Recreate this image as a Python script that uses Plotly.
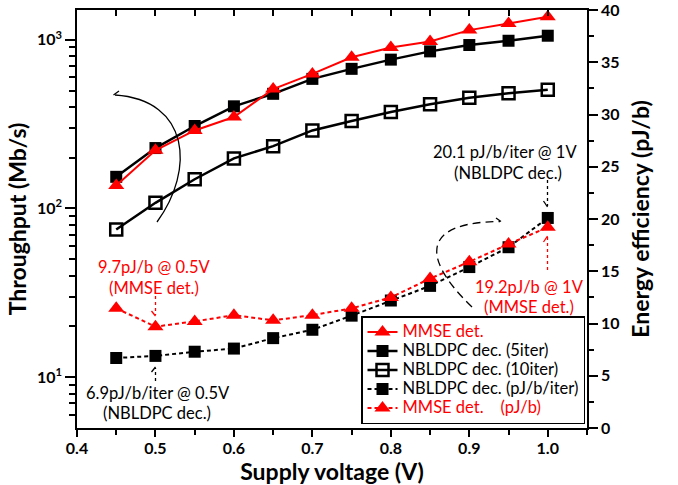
import plotly.graph_objects as go

# ---------------- data ----------------
voltage = [0.45, 0.50, 0.55, 0.60, 0.65, 0.70, 0.75, 0.80, 0.85, 0.90, 0.95, 1.00]
mmse_throughput = [137, 221, 290, 348, 510, 627, 787, 900, 977, 1140, 1248, 1367]
nbldpc5_throughput = [154, 228, 308, 403, 478, 586, 672, 762, 853, 930, 986, 1056]
nbldpc10_throughput = [75, 108, 149, 198, 234, 290, 330, 373, 414, 453, 482, 505]
nbldpc_energy = [6.7, 6.9, 7.3, 7.6, 8.6, 9.4, 10.75, 12.2, 13.6, 15.4, 17.3, 20.1]
mmse_energy = [11.45, 9.7, 10.2, 10.8, 10.3, 10.8, 11.45, 12.5, 14.3, 15.9, 17.6, 19.2]

x_tick_vals = [0.4, 0.5, 0.6, 0.7, 0.8, 0.9, 1.0]
x_tick_text = ["0.4", "0.5", "0.6", "0.7", "0.8", "0.9", "1.0"]
left_tick_vals = [10, 100, 1000]
left_tick_text = ["10<sup>1</sup>", "10<sup>2</sup>", "10<sup>3</sup>"]
left_minor_vals = [6, 7, 8, 9, 20, 30, 40, 50, 60, 70, 80, 90,
                   200, 300, 400, 500, 600, 700, 800, 900]
right_tick_vals = [0, 5, 10, 15, 20, 25, 30, 35, 40]
right_tick_text = ["0", "5", "10", "15", "20", "25", "30", "35", "40"]

FONT = "Lato"
RED = "#ff0000"
BLACK = "#000000"

W, H = 678, 485
# plot area in pixels
L, R, T, B = 77, 587, 10, 428


def pp(px, py):
    return (px - L) / (R - L), (B - py) / (B - T)


def path_from(points, cmds):
    s = ""
    for c, pts in zip(cmds, points):
        s += c + " " + " ".join("%.5f,%.5f" % pp(*p) for p in pts) + " "
    return s.strip()


def lg(text, color=BLACK):
    return '<span style="font-size:16.5px;color:%s">%s</span>' % (color, text)


fig = go.Figure()

# throughput (left log axis)
fig.add_trace(go.Scatter(
    x=voltage, y=nbldpc10_throughput, name=lg("NBLDPC dec. (10iter)"), mode="lines+markers",
    line=dict(color=BLACK, width=2.5), legendrank=3,
    marker=dict(symbol="square-open", size=12, color=BLACK, line=dict(width=2.5, color=BLACK))))
fig.add_trace(go.Scatter(
    x=voltage, y=nbldpc5_throughput, name=lg("NBLDPC dec. (5iter)"), mode="lines+markers",
    line=dict(color=BLACK, width=2.5), legendrank=2,
    marker=dict(symbol="square", size=12, color=BLACK)))
fig.add_trace(go.Scatter(
    x=voltage, y=mmse_throughput, name=lg("MMSE det.", RED),
    mode="lines+markers", line=dict(color=RED, width=2), legendrank=1,
    marker=dict(symbol="triangle-up", size=14, color=RED)))

# energy (right axis)
fig.add_trace(go.Scatter(
    x=voltage, y=nbldpc_energy, name=lg("NBLDPC dec. (pJ/b/iter)"), mode="lines+markers",
    yaxis="y2", line=dict(color=BLACK, width=2, dash="4px,3px"), legendrank=4,
    marker=dict(symbol="square", size=12, color=BLACK)))
fig.add_trace(go.Scatter(
    x=voltage, y=mmse_energy,
    name=lg("MMSE det.\u00a0\u00a0\u00a0\u00a0(pJ/b)", RED),
    mode="lines+markers", yaxis="y2", line=dict(color=RED, width=2, dash="4px,3px"),
    legendrank=5, marker=dict(symbol="triangle-up", size=14, color=RED)))

# dummy trace for top axis
fig.add_trace(go.Scatter(x=[], y=[], xaxis="x2", showlegend=False, hoverinfo="skip"))

tick_font = dict(family=FONT, size=16, color=BLACK, weight="bold")
title_font = dict(family=FONT, size=23, color=BLACK, weight="bold")

fig.update_layout(
    width=W, height=H,
    margin=dict(l=L, r=W - R, t=T, b=H - B, pad=0),
    paper_bgcolor="white", plot_bgcolor="white",
    font=dict(family=FONT, size=15, color=BLACK),
    xaxis=dict(
        range=[0.4, 1.05], tickmode="array", tickvals=x_tick_vals, ticktext=x_tick_text,
        ticks="outside", ticklen=7, tickwidth=1.5, tickcolor=BLACK,
        minor=dict(tickmode="array", tickvals=[0.45, 0.55, 0.65, 0.75, 0.85, 0.95, 1.05],
                   ticks="outside", ticklen=5, tickwidth=1.5, tickcolor=BLACK),
        showline=True, linewidth=1.5, linecolor=BLACK, showgrid=False, zeroline=False,
        tickfont=tick_font, automargin=False, ticklabeloverflow="allow",
        ticklabelstandoff=-2,
        title=dict(text="Supply voltage (V)", font=title_font, standoff=2)),
    xaxis2=dict(
        range=[0.4, 1.05], overlaying="x", side="top", tickmode="linear", tick0=0.4, dtick=0.05,
        ticks="inside", ticklen=6, tickwidth=1.5, tickcolor=BLACK, showticklabels=False,
        showline=True, linewidth=1.5, linecolor=BLACK, showgrid=False, zeroline=False,
        automargin=False),
    yaxis=dict(
        type="log", range=[0.69897, 3.17609], tickmode="array",
        tickvals=left_tick_vals, ticktext=left_tick_text,
        ticks="outside", ticklen=10, tickwidth=1.5, tickcolor=BLACK,
        minor=dict(tickmode="array", tickvals=left_minor_vals, ticks="outside",
                   ticklen=6, tickwidth=1.5, tickcolor=BLACK),
        showline=True, linewidth=1.5, linecolor=BLACK, showgrid=False, zeroline=False,
        tickfont=tick_font, automargin=False, ticklabeloverflow="allow",
        title=dict(text="Throughput (Mb/s)", font=title_font, standoff=4)),
    yaxis2=dict(
        range=[0, 40], overlaying="y", side="right", tickmode="array",
        tickvals=right_tick_vals, ticktext=right_tick_text,
        ticks="outside", ticklen=9, tickwidth=1.5, tickcolor=BLACK,
        minor=dict(tickmode="linear", tick0=2.5, dtick=5, ticks="outside", ticklen=5,
                   tickwidth=1.5, tickcolor=BLACK),
        showline=True, linewidth=1.5, linecolor=BLACK, showgrid=False, zeroline=False,
        tickfont=tick_font, automargin=False, ticklabeloverflow="allow",
        title=dict(text="Energy efficiency (pJ/b)", font=title_font, standoff=14)),
    legend=dict(
        x=pp(585, 0)[0], xanchor="right", y=pp(0, 424)[1], yanchor="bottom",
        bgcolor="white", bordercolor=BLACK, borderwidth=1.5,
        font=dict(family=FONT, size=12, color=BLACK), tracegroupgap=0,
        itemwidth=30),
    showlegend=True,
)

# ---------------- text annotations ----------------
texts = [
    ("20.1 pJ/b/iter @ 1V", 505, 152, BLACK),
    ("(NBLDPC dec.)", 508, 173, BLACK),
    ("19.2pJ/b @ 1V", 529, 287, RED),
    ("(MMSE det.)", 529, 307, RED),
    ("9.7pJ/b @ 0.5V", 154, 267, RED),
    ("(MMSE det.)", 154, 288, RED),
    ("6.9pJ/b/iter @ 0.5V", 158, 393, BLACK),
    ("(NBLDPC dec.)", 157, 413, BLACK),
]
for t, px, py, col in texts:
    xp, yp = pp(px, py)
    fig.add_annotation(text=t, x=xp, y=yp, xref="paper", yref="paper", showarrow=False,
                       xanchor="center", yanchor="middle",
                       font=dict(family=FONT, size=16.5, color=col))


# ---------------- arrows (shapes) ----------------
def add_line(p0, p1, color, dash, width=1.3):
    x0, y0 = pp(*p0)
    x1, y1 = pp(*p1)
    fig.add_shape(type="line", xref="paper", yref="paper", x0=x0, y0=y0, x1=x1, y1=y1,
                  line=dict(color=color, width=width, dash=dash))


def add_path(pts, cmds, color, dash="solid", width=1.3):
    fig.add_shape(type="path", xref="paper", yref="paper", path=path_from(pts, cmds),
                  line=dict(color=color, width=width, dash=dash))


# dotted vertical arrows
add_line((547.5, 180), (547.5, 206), BLACK, "dot")
add_path([[(543.5, 201)], [(547.5, 207), (551.5, 201)]], ["M", "L"], BLACK)
add_line((547.5, 270), (547.5, 237), RED, "dot")
add_path([[(543.5, 242)], [(547.5, 236), (551.5, 242)]], ["M", "L"], RED)
add_line((155.5, 296), (155.5, 315), RED, "dot")
add_path([[(151.5, 311)], [(155.5, 316), (159.5, 311)]], ["M", "L"], RED)
add_line((155.5, 381), (155.5, 368), BLACK, "dot")
add_path([[(151.5, 372)], [(155.5, 367), (159.5, 372)]], ["M", "L"], BLACK)

# left curved arrow (solid)
add_path([[(157, 222)], [(195, 170), (190, 100), (115, 95)]], ["M", "C"], BLACK, width=1.3)
add_path([[(119, 91)], [(113.5, 95), (119, 99)]], ["M", "L"], BLACK, width=1.3)

# right curved arrow (dashed)
add_path([[(472, 307)], [(418, 255), (425, 222), (500, 221.5)]], ["M", "C"], BLACK,
         dash="8px,5px", width=1.3)
add_path([[(496, 218)], [(501, 221.5), (496, 225)]], ["M", "L"], BLACK, width=1.3)

fig.write_html("out.html", config={"displayModeBar": False},
               post_script="document.body.style.margin='0';document.body.style.padding='0';")
